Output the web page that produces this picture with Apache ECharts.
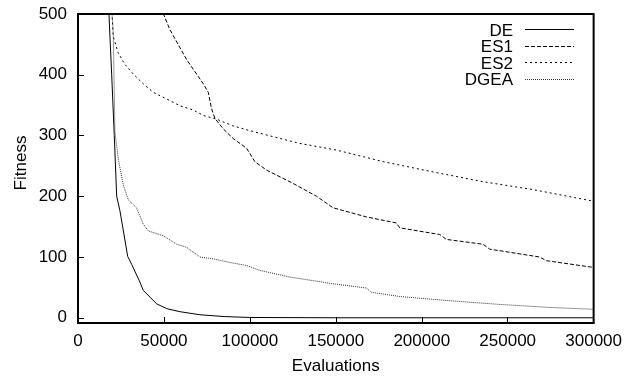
<!DOCTYPE html>
<html>
<head>
<meta charset="utf-8">
<script src="https://cdn.jsdelivr.net/npm/echarts@6/dist/echarts.min.js"></script>
<style>
html,body{margin:0;padding:0;background:#fff}
#wrap{position:relative;width:625px;height:380px}
#c{position:absolute;left:0;top:0;width:625px;height:380px}
#ov{position:absolute;left:0;top:0;width:625px;height:380px;pointer-events:none}
#ov text{font-family:"Liberation Sans";font-size:17px;fill:#000}
</style>
</head>
<body>
<div id="wrap"><div id="c"></div><svg id="ov" width="625" height="380" xmlns="http://www.w3.org/2000/svg"></svg></div>
<script>
var seriesNames = ['DE', 'ES1', 'ES2', 'DGEA'];

var deX = [15000, 18000, 19600, 21100, 22500, 24400, 26400, 28900, 31200, 35500, 38000, 41900, 45700, 51600, 59300, 70900, 85000, 100000, 150000, 200000, 250000, 300000];
var deY = [700, 500, 400, 300, 200, 176, 143, 101, 88, 62, 45, 34, 23, 15, 10, 5, 2, 0.5, 0, 0, 0, 0];

var es1X = [47000, 49600, 53500, 63200, 72900, 75800, 77700, 79700, 84500, 90300, 98100, 102900, 109700, 125200, 138800, 148400, 167800, 185300, 187200, 210500, 214300, 235700, 239500, 268600, 272500, 299600, 300000];
var es1Y = [560, 501, 474, 425, 385, 371, 344, 328, 311, 295, 279, 257, 243, 221, 200, 181, 166, 156, 148, 137, 129, 121, 113, 100, 94, 83, 83];

var es2X = [19000, 19800, 20500, 23400, 27300, 32200, 38000, 43800, 51600, 59300, 67000, 72900, 80600, 90000, 100000, 115000, 129000, 150400, 177500, 206600, 235600, 264700, 299600, 300000];
var es2Y = [560, 500, 463, 436, 417, 401, 385, 371, 360, 349, 342, 333, 327, 316, 308, 297, 287, 276, 257, 240, 224, 211, 192, 191];

var dgeaX = [19500, 19800, 20500, 21500, 23400, 26300, 29300, 34100, 38000, 40900, 49600, 57400, 63200, 70900, 78700, 88400, 98100, 105800, 123300, 148400, 167800, 170700, 187200, 216300, 245300, 274400, 299600, 300000];
var dgeaY = [560, 500, 469, 306, 262, 219, 194, 181, 154, 143, 135, 121, 116, 100, 97, 91, 86, 78, 67, 56, 49, 42, 35, 28, 22, 17, 14, 13];

var yTicks = [0, 100, 200, 300, 400, 500];

function zip(xs, ys) { return xs.map(function (x, i) { return [x, ys[i]]; }); }

var FONT = 'Liberation Sans';
var FS = 17;
var lineDefs = [
  { x: deX, y: deY, color: '#000', type: 'solid', dash: '' },
  { x: es1X, y: es1Y, color: '#000', type: [4, 2], dash: '4,2' },
  { x: es2X, y: es2Y, color: '#000', type: [2, 3], dash: '2,3' },
  { x: dgeaX, y: dgeaY, color: '#333', type: [1, 1], dash: '1,1' }
];
var legendRowCenters = [29.5, 46, 62.5, 79];

function plain(v) { return String(v); }
function yLab(v) { return yTicks.indexOf(v) >= 0 ? String(v) : ''; }

// legend + y-axis title as SVG text overlay
var NS = 'http://www.w3.org/2000/svg';
var ov = document.getElementById('ov');
function el(tag, attrs, txt) {
  var e = document.createElementNS(NS, tag);
  for (var k in attrs) e.setAttribute(k, attrs[k]);
  if (txt) e.textContent = txt;
  ov.appendChild(e);
  return e;
}
seriesNames.forEach(function (n, i) {
  var cy = legendRowCenters[i];
  var ly = Math.floor(cy) + 0.5;
  el('text', { x: 513, y: cy + 6, 'text-anchor': 'end' }, n);
  var a = { x1: 525, y1: ly, x2: 574, y2: ly, stroke: lineDefs[i].color, 'stroke-width': 1 };
  if (lineDefs[i].dash) a['stroke-dasharray'] = lineDefs[i].dash;
  el('line', a);
});
el('text', { x: 0, y: 0, 'text-anchor': 'middle', transform: 'translate(26,163) rotate(-90)' }, 'Fitness');

var chart = echarts.init(document.getElementById('c'));
var hidden = { show: true, lineStyle: { color: 'rgba(0,0,0,0)', width: 1 } };

chart.setOption({
  animation: false,
  grid: { left: 78, right: 31, top: 14, bottom: 54, show: true, borderColor: '#000', borderWidth: 2 },
  xAxis: {
    type: 'value', min: 0, max: 300000, interval: 50000,
    name: 'Evaluations', nameLocation: 'middle', nameGap: 35,
    nameTextStyle: { fontSize: FS, color: '#000', fontFamily: FONT },
    axisLine: { show: true, onZero: false, lineStyle: { color: '#000', width: 2 } },
    axisTick: { show: true, inside: true, length: 6, lineStyle: { color: '#000', width: 1 } },
    splitLine: hidden,
    axisLabel: { fontSize: FS, color: '#000', margin: 10, fontFamily: FONT, formatter: plain }
  },
  yAxis: {
    type: 'value', min: -8.6, max: 500,
    axisLine: { show: true, onZero: false, lineStyle: { color: '#000', width: 2 } },
    axisTick: { show: true, inside: true, length: 6, lineStyle: { color: '#000', width: 1 } },
    splitLine: hidden,
    axisLabel: { fontSize: FS, color: '#000', margin: 11, fontFamily: FONT, formatter: yLab }
  },
  series: lineDefs.map(function (d, i) {
    return {
      name: seriesNames[i], type: 'line', data: zip(d.x, d.y),
      symbol: 'none', showSymbol: false, clip: true,
      color: d.color,
      lineStyle: { color: d.color, width: 1, type: d.type }
    };
  })
});
</script>
</body>
</html>
